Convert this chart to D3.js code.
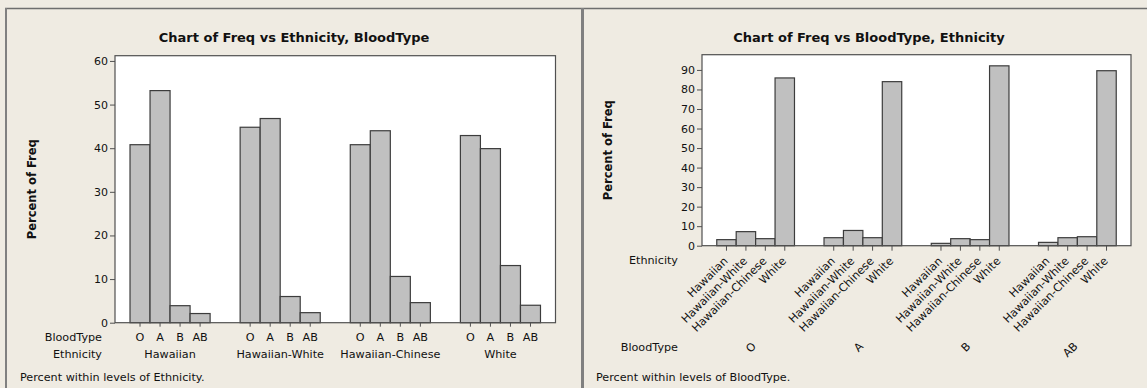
<!DOCTYPE html>
<html>
<head>
<meta charset="utf-8">
<script src="https://cdn.jsdelivr.net/npm/d3@7"></script>
<style>
  html, body { margin: 0; padding: 0; background: #EFEBE2; }
  svg { display: block; }
  text { font-family: "DejaVu Sans", "Liberation Sans", Arial, sans-serif; fill: #111; }
</style>
</head>
<body>
<svg id="chart" width="1147" height="388"></svg>
<script>
// ---- Data ----
const ethnicities = ["Hawaiian", "Hawaiian-White", "Hawaiian-Chinese", "White"];
const bloodTypes = ["O", "A", "B", "AB"];
// Percent within levels of Ethnicity (rows: ethnicity, cols: blood type O, A, B, AB)
const pctHawaiian        = [40.8, 53.2, 3.9, 2.1];
const pctHawaiianWhite   = [44.8, 46.8, 6.0, 2.3];
const pctHawaiianChinese = [40.8, 44.0, 10.6, 4.6];
const pctWhite           = [42.9, 39.9, 13.1, 4.0];
// Percent within levels of BloodType (rows: blood type, cols: ethnicity)
const pctO  = [3.1, 7.2, 3.6, 85.9];
const pctA  = [4.1, 7.8, 4.1, 84.0];
const pctB  = [1.2, 3.6, 3.1, 92.1];
const pctAB = [1.7, 4.1, 4.6, 89.6];
const leftTicks = [0, 10, 20, 30, 40, 50, 60];
const rightTicks = [0, 10, 20, 30, 40, 50, 60, 70, 80, 90];

const leftRows = [pctHawaiian, pctHawaiianWhite, pctHawaiianChinese, pctWhite];
const rightRows = [pctO, pctA, pctB, pctAB];

const svg = d3.select("#chart");
const BAR_FILL = "#C0C0C0", BAR_STROKE = "#3c3c3c", FRAME = "#505050";
const FONT = "DejaVu Sans, Liberation Sans, Arial, sans-serif";
const LBL = 11.2, TICK = 11, TITLE = 13, YT = 11.5;

// ---- Panel borders ----
svg.append("rect").attr("x", 0).attr("y", 0).attr("width", 1147).attr("height", 388).attr("fill", "#EFEBE2");
svg.append("line").attr("x1", 5).attr("x2", 1147).attr("y1", 8.5).attr("y2", 8.5).attr("stroke", "#6e6e6e").attr("stroke-width", 1.5);
svg.append("line").attr("x1", 6).attr("x2", 6).attr("y1", 8).attr("y2", 388).attr("stroke", "#808080").attr("stroke-width", 2);
svg.append("line").attr("x1", 582.5).attr("x2", 582.5).attr("y1", 8).attr("y2", 388).attr("stroke", "#808080").attr("stroke-width", 3);

// ================= LEFT PANEL =================
(function () {
  const L = { x0: 115, x1: 555.5, y0: 55.7, y1: 322.7 };
  const g = svg.append("g");
  const y = d3.scaleLinear().domain([0, 61.2]).range([L.y1, L.y0]);
  const xOuter = d3.scaleBand().domain(ethnicities).range([L.x0, L.x1]).padding(0);
  const xInner = d3.scaleBand().domain(bloodTypes).range([0, xOuter.bandwidth()]).paddingInner(0).paddingOuter(0.75);

  g.append("rect").attr("x", L.x0).attr("y", L.y0).attr("width", L.x1 - L.x0).attr("height", L.y1 - L.y0)
    .attr("fill", "#fff");

  const data = [];
  ethnicities.forEach((e, i) => bloodTypes.forEach((b, j) => data.push({ e, b, v: leftRows[i][j] })));
  const cx = d => xOuter(d.e) + xInner(d.b) + xInner.bandwidth() / 2;

  g.selectAll("rect.bar").data(data).join("rect").attr("class", "bar")
    .attr("x", d => xOuter(d.e) + xInner(d.b))
    .attr("width", xInner.bandwidth())
    .attr("y", d => y(d.v))
    .attr("height", d => y(0) - y(d.v))
    .attr("fill", BAR_FILL).attr("stroke", BAR_STROKE).attr("stroke-width", 1.2);

  g.append("rect").attr("x", L.x0).attr("y", L.y0).attr("width", L.x1 - L.x0).attr("height", L.y1 - L.y0)
    .attr("fill", "none").attr("stroke", FRAME).attr("stroke-width", 1.2);

  const ya = g.append("g").attr("transform", `translate(${L.x0},0)`)
    .call(d3.axisLeft(y).tickValues(leftTicks).tickSize(5).tickPadding(2).tickFormat(d3.format("d")));
  ya.select(".domain").remove();
  ya.selectAll("line").attr("stroke", FRAME);
  ya.selectAll("text").attr("font-size", TICK).attr("font-family", FONT).attr("fill", "#111");

  g.selectAll("line.xt").data(data).join("line").attr("class", "xt")
    .attr("x1", cx).attr("x2", cx)
    .attr("y1", L.y1).attr("y2", L.y1 + 4).attr("stroke", FRAME);

  g.selectAll("text.bt").data(data).join("text").attr("class", "bt")
    .attr("x", cx).attr("y", 340.7).attr("text-anchor", "middle").attr("font-size", LBL).text(d => d.b);

  g.selectAll("text.et").data(ethnicities).join("text").attr("class", "et")
    .attr("x", d => xOuter(d) + xOuter.bandwidth() / 2)
    .attr("y", 358.3).attr("text-anchor", "middle").attr("font-size", LBL).text(d => d);

  g.append("text").attr("x", 102).attr("y", 340.7).attr("text-anchor", "end").attr("font-size", LBL).text("BloodType");
  g.append("text").attr("x", 102).attr("y", 358.3).attr("text-anchor", "end").attr("font-size", LBL).text("Ethnicity");

  g.append("text").attr("x", 294).attr("y", 41.7).attr("text-anchor", "middle")
    .attr("font-size", TITLE).attr("font-weight", "bold").text("Chart of Freq vs Ethnicity, BloodType");

  g.append("text").attr("transform", `translate(35.5,${(L.y0 + L.y1) / 2}) rotate(-90)`)
    .attr("text-anchor", "middle").attr("font-size", YT).attr("font-weight", "bold").text("Percent of Freq");

  g.append("text").attr("x", 20).attr("y", 380.7).attr("font-size", LBL).text("Percent within levels of Ethnicity.");
})();

// ================= RIGHT PANEL =================
(function () {
  const R = { x0: 702, x1: 1131, y0: 54.7, y1: 245.7 };
  const g = svg.append("g");
  const y = d3.scaleLinear().domain([0, 97.8]).range([R.y1, R.y0]);
  const xOuter = d3.scaleBand().domain(bloodTypes).range([R.x0, R.x1]).padding(0);
  const xInner = d3.scaleBand().domain(ethnicities).range([0, xOuter.bandwidth()]).paddingInner(0).paddingOuter(0.76);

  g.append("rect").attr("x", R.x0).attr("y", R.y0).attr("width", R.x1 - R.x0).attr("height", R.y1 - R.y0)
    .attr("fill", "#fff");

  const data = [];
  bloodTypes.forEach((b, i) => ethnicities.forEach((e, j) => data.push({ b, e, v: rightRows[i][j] })));
  const cx = d => xOuter(d.b) + xInner(d.e) + xInner.bandwidth() / 2;

  g.selectAll("rect.bar").data(data).join("rect").attr("class", "bar")
    .attr("x", d => xOuter(d.b) + xInner(d.e))
    .attr("width", xInner.bandwidth())
    .attr("y", d => y(d.v))
    .attr("height", d => y(0) - y(d.v))
    .attr("fill", BAR_FILL).attr("stroke", BAR_STROKE).attr("stroke-width", 1.2);

  g.append("rect").attr("x", R.x0).attr("y", R.y0).attr("width", R.x1 - R.x0).attr("height", R.y1 - R.y0)
    .attr("fill", "none").attr("stroke", FRAME).attr("stroke-width", 1.2);

  const ya = g.append("g").attr("transform", `translate(${R.x0},0)`)
    .call(d3.axisLeft(y).tickValues(rightTicks).tickSize(5).tickPadding(2).tickFormat(d3.format("d")));
  ya.select(".domain").remove();
  ya.selectAll("line").attr("stroke", FRAME);
  ya.selectAll("text").attr("font-size", TICK).attr("font-family", FONT).attr("fill", "#111");

  g.selectAll("line.xt").data(data).join("line").attr("class", "xt")
    .attr("x1", cx).attr("x2", cx)
    .attr("y1", R.y1).attr("y2", R.y1 + 5).attr("stroke", FRAME);

  g.selectAll("text.et").data(data).join("text").attr("class", "et")
    .attr("transform", d => `translate(${cx(d) + 2},${R.y1 + 16}) rotate(-45)`)
    .attr("text-anchor", "end").attr("font-size", LBL).text(d => d.e);

  g.selectAll("text.bt").data(bloodTypes).join("text").attr("class", "bt")
    .attr("transform", d => `translate(${xOuter(d) + xOuter.bandwidth() / 2 + 1},${347}) rotate(-45)`)
    .attr("text-anchor", "end").attr("font-size", LBL).text(d => d);

  g.append("text").attr("x", 678).attr("y", 264).attr("text-anchor", "end").attr("font-size", LBL).text("Ethnicity");
  g.append("text").attr("x", 678).attr("y", 350.7).attr("text-anchor", "end").attr("font-size", LBL).text("BloodType");

  g.append("text").attr("x", 869).attr("y", 41.7).attr("text-anchor", "middle")
    .attr("font-size", TITLE).attr("font-weight", "bold").text("Chart of Freq vs BloodType, Ethnicity");

  g.append("text").attr("transform", `translate(612,${(R.y0 + R.y1) / 2}) rotate(-90)`)
    .attr("text-anchor", "middle").attr("font-size", YT).attr("font-weight", "bold").text("Percent of Freq");

  g.append("text").attr("x", 596).attr("y", 380.7).attr("font-size", LBL).text("Percent within levels of BloodType.");
})();
</script>
</body>
</html>
